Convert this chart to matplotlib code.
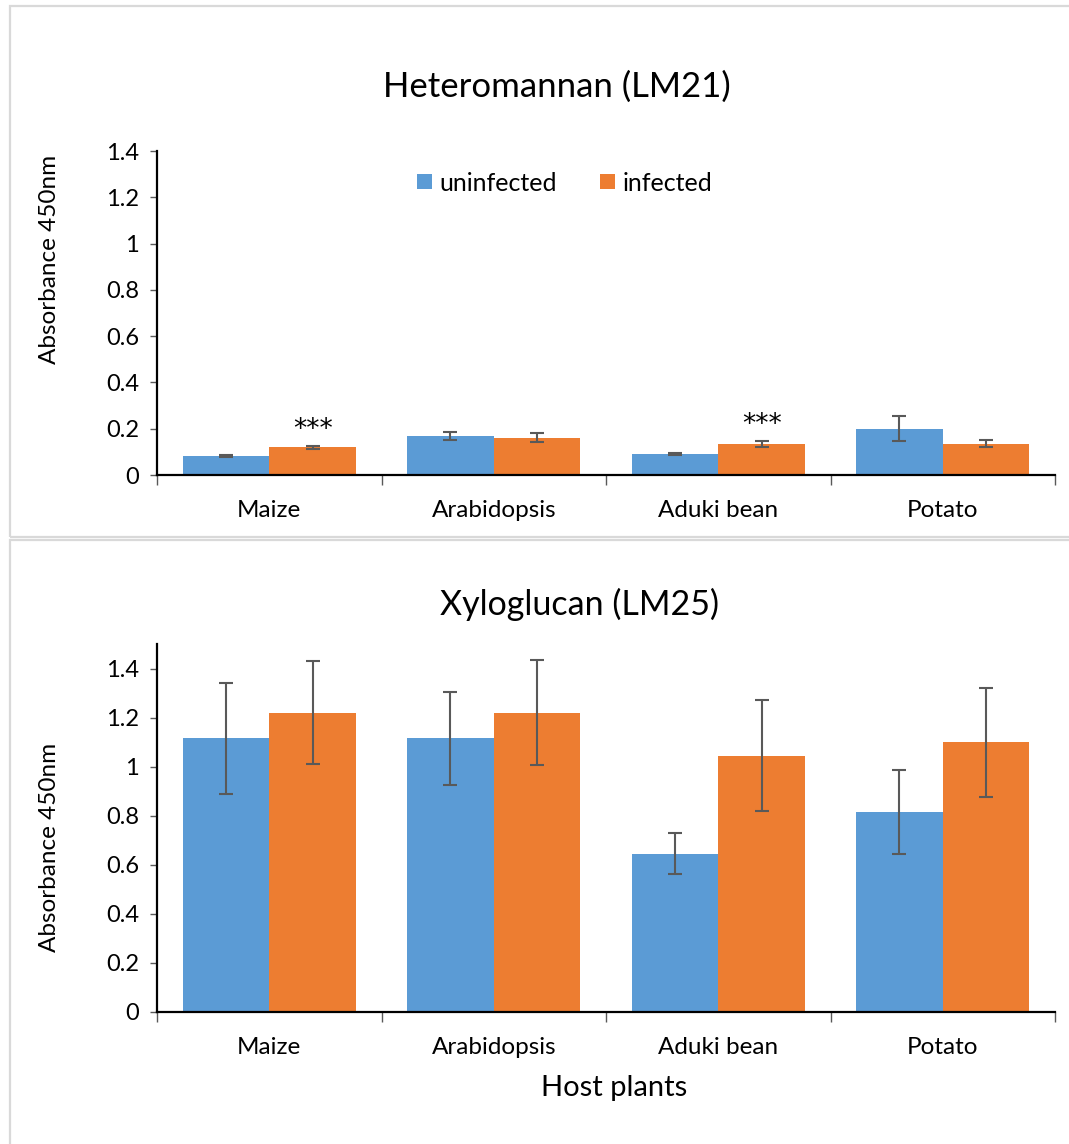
import matplotlib.pyplot as plt
import numpy as np
from matplotlib.patches import Rectangle
from matplotlib.ticker import MultipleLocator

plt.rcParams['font.family'] = ['Lato', 'DejaVu Sans']

# data
plants = ['Maize', 'Arabidopsis', 'Aduki bean', 'Potato']
series = ['uninfected', 'infected']

lm21_uninf = [0.083, 0.169, 0.089, 0.199]
lm21_uninf_err = [0.004, 0.017, 0.004, 0.054]
lm21_inf = [0.119, 0.161, 0.136, 0.135]
lm21_inf_err = [0.005, 0.019, 0.013, 0.015]
lm21_stars = ['***', '', '***', '']

lm25_uninf = [1.115, 1.115, 0.645, 0.815]
lm25_uninf_err = [0.225, 0.19, 0.083, 0.173]
lm25_inf = [1.22, 1.22, 1.045, 1.10]
lm25_inf_err = [0.21, 0.215, 0.225, 0.222]

blue = '#5B9BD5'
orange = '#ED7D31'
W, H = 1069, 1144

fig = plt.figure(figsize=(W / 100, H / 100), dpi=100)

# chart area borders (two stacked excel charts)
for (x0, y0, x1, y1) in [(10, 6, 1110, 537), (10, 540, 1110, 1160)]:
    fig.patches.append(Rectangle((x0 / W, 1 - y1 / H), (x1 - x0) / W, (y1 - y0) / H,
                                 transform=fig.transFigure, fill=False,
                                 edgecolor='#d9d9d9', lw=1.6))


def panel(rect, uninf, uerr, inf, ierr, ymax, label_y):
    ax = fig.add_axes(rect)
    x = np.arange(len(plants))
    w = 0.386
    ekw = dict(ecolor='#595959', elinewidth=1.5, capsize=5, capthick=1.5)
    ax.bar(x - w / 2, uninf, w, yerr=uerr, color=blue, label=series[0], error_kw=ekw)
    ax.bar(x + w / 2, inf, w, yerr=ierr, color=orange, label=series[1], error_kw=ekw)
    ax.set_xlim(-0.5, len(plants) - 0.5)
    ax.set_ylim(0, ymax)
    ax.set_yticks(np.arange(0, 1.41, 0.2))
    ax.set_yticklabels(['0', '0.2', '0.4', '0.6', '0.8', '1', '1.2', '1.4'], fontsize=17)
    ax.set_xticks(x)
    ax.set_xticklabels(plants, fontsize=17.5)
    ax.xaxis.set_minor_locator(MultipleLocator(1, offset=0.5))
    ax.tick_params(axis='x', which='major', length=0, pad=18)
    ax.tick_params(axis='x', which='minor', length=7, width=1, color='#595959', direction='out')
    ax.tick_params(axis='y', length=5, width=1, color='#595959', pad=8)
    for s in ['top', 'right']:
        ax.spines[s].set_visible(False)
    for s in ['left', 'bottom']:
        ax.spines[s].set_linewidth(1.6)
    ax.set_ylabel('Absorbance 450nm', fontsize=17.5)
    ax.yaxis.set_label_coords(-0.108, label_y)
    return ax


ax1 = panel([157 / W, 1 - 475 / H, 898 / W, 324 / H],
            lm21_uninf, lm21_uninf_err, lm21_inf, lm21_inf_err, 1.4, 0.664)
x = np.arange(len(plants))
for i, s in enumerate(lm21_stars):
    if s:
        ax1.text(x[i] + 0.386 / 2, lm21_inf[i] + lm21_inf_err[i] + 0.125, s,
                 ha='center', va='top', fontsize=19, family='DejaVu Sans')
ax1.legend(ncol=2, frameon=False, fontsize=18, loc='center',
           bbox_to_anchor=(0.454, 0.901), handlelength=0.6, handleheight=0.55,
           handletextpad=0.3, columnspacing=1.7)

ax2 = panel([157 / W, 1 - 1012 / H, 898 / W, (1012 - 644) / H],
            lm25_uninf, lm25_uninf_err, lm25_inf, lm25_inf_err, 1.5, 0.446)

fig.text(557 / W, 1 - 87 / H, 'Heteromannan (LM21)', ha='center', va='center', fontsize=25)
fig.text(580 / W, 1 - 604 / H, 'Xyloglucan (LM25)', ha='center', va='center', fontsize=24.5)
fig.text(614 / W, 1 - 1088 / H, 'Host plants', ha='center', va='center', fontsize=21)

fig.savefig('out.png', dpi=100)
